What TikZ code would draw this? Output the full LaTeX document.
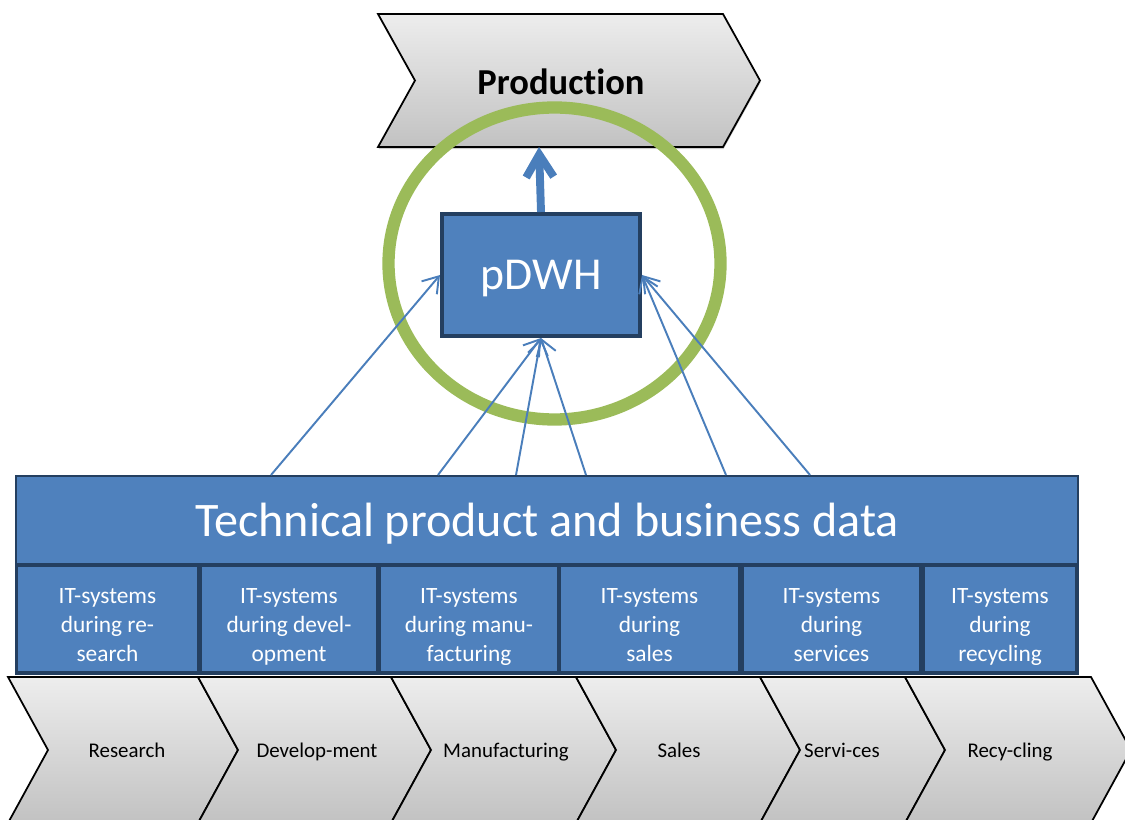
\documentclass[tikz,border=0pt]{standalone}
\usepackage{fontspec}
\setmainfont{Carlito}[Ligatures=NoCommon]
\usetikzlibrary{arrows.meta,positioning,shadows}

\definecolor{boxblue}{HTML}{4F81BD}
\definecolor{boxnavy}{HTML}{243F60}
\definecolor{ringgreen}{HTML}{9BBB59}
\definecolor{feedblue}{HTML}{4A7EBB}

\tikzset{
  chev/.style={draw=black, line width=1pt, top color=black!7, bottom color=black!24},
  cell/.style={fill=boxblue, text=white, align=center, inner sep=0pt,
    text height=48pt, text depth=0pt,
    minimum height=2.08cm, font=\fontsize{13.3}{16.4}\selectfont},
  feed/.style={feedblue, line width=1.1pt, -{Straight Barb[length=3mm,width=4mm]}},
  stagelabel/.style={anchor=base, font=\fontsize{11.9}{14}\selectfont}
}

\begin{document}
\begin{tikzpicture}[x=0.02cm, y=-0.02cm]
  \useasboundingbox (0,0) rectangle (1125,820);

  % target process on top
  \draw[chev, drop shadow={shadow xshift=0.3pt, shadow yshift=-1.2pt, opacity=0.4}]
    (378,14) -- (723,14) -- (760,80.5) -- (723,147) -- (378,147) -- (415,80.5) -- cycle;
  \node[font=\fontsize{20.8}{24}\selectfont\bfseries] (prod) at (561,82) {Production};
  \coordinate (prodbot) at (539,147);

  % ring round the warehouse
  \draw[ringgreen, line width=7pt] (554.5,263.5) ellipse [x radius=166, y radius=156];

  \node[draw=boxnavy, line width=2.3pt, fill=boxblue, text=white, text depth=0pt,
    minimum width=3.96cm, minimum height=2.44cm,
    font=\fontsize{26}{30}\selectfont] (pdwh) at (541,275) {pDWH};
  \draw[feedblue, line width=4.5pt, -{Straight Barb[length=4.5mm,width=5.5mm]}]
    (pdwh.north) -- (prodbot);

  % data layer
  \node[fill=boxnavy, inner sep=0pt, minimum width=21.28cm, minimum height=4cm] (frame) at (547,575) {};
  \node[fill=boxblue, text=white, inner sep=0pt, text depth=0pt,
    minimum width=21.2cm, minimum height=1.72cm,
    font=\fontsize{27.4}{32}\selectfont] (band) at (547,520) {Technical product and business data};

  \node[cell, minimum width=3.58cm] (itres) at (107.5,619) {IT-systems\\during re-\\search};
  \node[cell, minimum width=3.48cm] (itdev) at (289,619) {IT-systems\\during devel-\\opment};
  \node[cell, minimum width=3.52cm] (itman) at (469,619) {IT-systems\\during manu-\\facturing};
  \node[cell, minimum width=3.54cm] (itsal) at (649.5,619) {IT-systems\\during\\sales};
  \node[cell, minimum width=3.50cm] (itser) at (831.5,619) {IT-systems\\during\\services};
  \node[cell, minimum width=3.00cm] (itrec) at (1000,619) {IT-systems\\during\\recycling};

  % feeds into the pDWH
  \foreach \sx [count=\i] in {271,438,516,586,726,810}
    \coordinate (src\i) at (\sx,475);
  \draw[feed] (src1) -- (pdwh.west);
  \draw[feed] (src2) -- (pdwh.south);
  \draw[feed] (src3) -- (pdwh.south);
  \draw[feed] (src4) -- (pdwh.south);
  \draw[feed] (src5) -- (pdwh.east);
  \draw[feed] (src6) -- (pdwh.east);

  % life cycle phases
  \foreach \a/\b/\lx/\nm/\txt in {8/198/127/research/Research, 198/391/317/develop/Develop-ment,
      391/576/506/manuf/Manufacturing, 576/760/679/sales/Sales,
      760/905/842/service/Servi-ces, 905/1091/1010/recycle/Recy-cling}
  {
    \draw[chev] (\a,677) -- (\b,677) -- (\b+40,750) -- (\b,823) -- (\a,823) -- (\a+40,750) -- cycle;
    \node[stagelabel] (\nm) at (\lx,757) {\txt};
  }
\end{tikzpicture}
\end{document}
